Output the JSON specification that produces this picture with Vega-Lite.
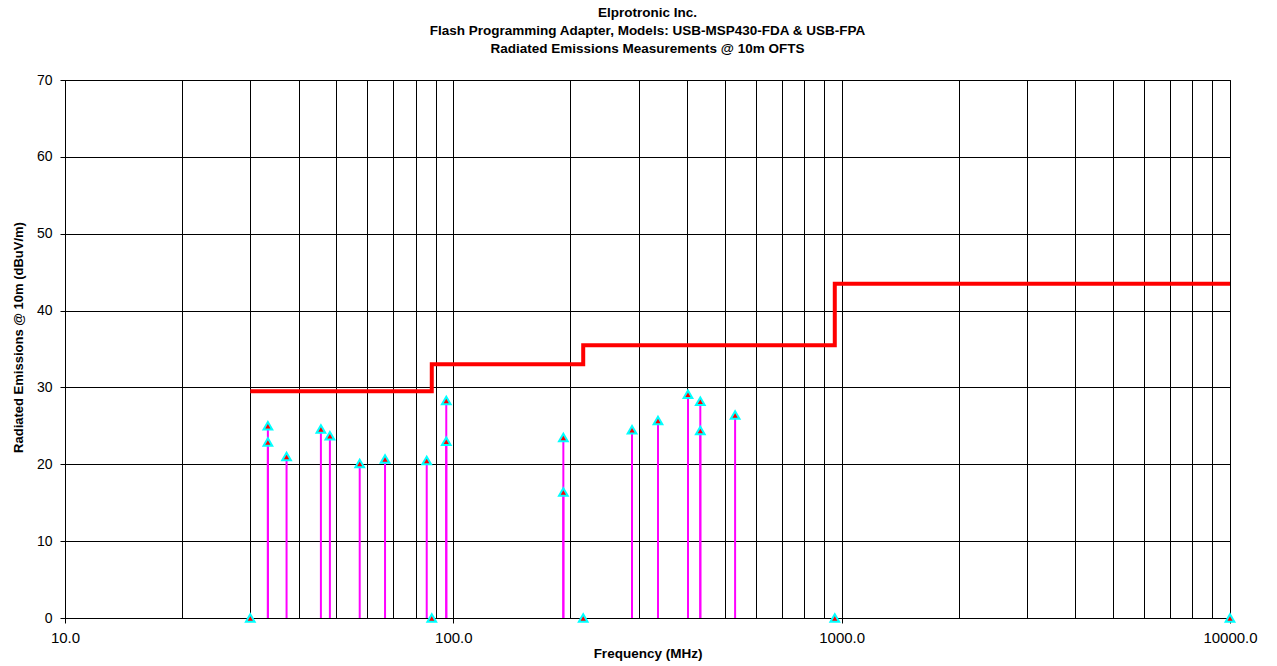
{
  "$schema": "https://vega.github.io/schema/vega-lite/v6.json",
  "width": 1165,
  "height": 538,
  "autosize": {"type": "none"},
  "padding": {"left": 65, "top": 80, "right": 47, "bottom": 48},
  "background": "white",
  "config": {
    "font": "Liberation Sans",
    "view": {"stroke": "black", "strokeWidth": 1}
  },
  "title": {
    "text": ["Elprotronic Inc.", "Flash Programming Adapter, Models: USB-MSP430-FDA & USB-FPA", "Radiated Emissions Measurements @ 10m OFTS"],
    "fontSize": 13.5,
    "fontWeight": "bold",
    "font": "Liberation Sans",
    "lineHeight": 18,
    "anchor": "middle",
    "baseline": "bottom",
    "offset": 24,
    "dy": 20,
    "color": "black"
  },
  "datasets": {
    "meas": [
      {"freq": 30.0, "level": 0},
      {"freq": 33.3, "level": 25.0},
      {"freq": 33.3, "level": 22.9},
      {"freq": 37.2, "level": 21.0},
      {"freq": 45.6, "level": 24.6},
      {"freq": 48.1, "level": 23.7},
      {"freq": 57.4, "level": 20.1},
      {"freq": 66.7, "level": 20.7},
      {"freq": 85.4, "level": 20.5},
      {"freq": 88.0, "level": 0},
      {"freq": 95.9, "level": 28.3},
      {"freq": 95.9, "level": 23.0},
      {"freq": 192.0, "level": 23.5},
      {"freq": 192.0, "level": 16.4},
      {"freq": 216.0, "level": 0},
      {"freq": 288.5, "level": 24.5},
      {"freq": 336.5, "level": 25.7},
      {"freq": 402.0, "level": 29.1},
      {"freq": 432.5, "level": 28.2},
      {"freq": 432.5, "level": 24.4},
      {"freq": 531.6, "level": 26.4},
      {"freq": 960.0, "level": 0},
      {"freq": 10000.0, "level": 0}
    ],
    "limit": [
      {"freq": 30, "limit": 29.5},
      {"freq": 88, "limit": 33.0},
      {"freq": 216, "limit": 35.5},
      {"freq": 960, "limit": 43.5},
      {"freq": 10000, "limit": 43.5}
    ]
  },
  "layer": [
    {
      "data": {"name": "meas"},
      "mark": {"type": "rule", "color": "#FF00FF", "strokeWidth": 2},
      "encoding": {
        "x": {
          "field": "freq", "type": "quantitative",
          "scale": {"type": "log", "domain": [10, 10000], "nice": false},
          "axis": {
            "values": [10,20,30,40,50,60,70,80,90,100,200,300,400,500,600,700,800,900,1000,2000,3000,4000,5000,6000,7000,8000,9000,10000],
            "labelExpr": "(datum.value==10||datum.value==100||datum.value==1000||datum.value==10000) ? format(datum.value,'.1f') : ''",
            "tickOpacity": {"condition": {"test": "datum.value==10||datum.value==100||datum.value==1000||datum.value==10000", "value": 1}, "value": 0},
            "grid": true, "gridColor": "black", "gridOpacity": 1, "gridWidth": 1,
            "domainColor": "black", "tickColor": "black", "tickSize": 5,
            "labelFontSize": 15, "labelColor": "black", "labelPadding": 7, "labelFont": "Liberation Sans",
            "labelOverlap": false, "labelFlush": false,
            "title": "Frequency (MHz)", "titleFontSize": 13.5, "titleFontWeight": "bold", "titleColor": "black",
            "titleY": 35, "titleBaseline": "middle", "titleFont": "Liberation Sans"
          }
        },
        "y": {
          "field": "level", "type": "quantitative",
          "scale": {"domain": [0, 70], "nice": false, "zero": true},
          "axis": {
            "values": [0,10,20,30,40,50,60,70],
            "grid": true, "gridColor": "black", "gridOpacity": 1, "gridWidth": 1,
            "domainColor": "black", "tickColor": "black", "tickSize": 5,
            "labelFontSize": 14, "labelColor": "black", "labelPadding": 8, "labelFont": "Liberation Sans",
            "title": "Radiated Emissions @ 10m (dBuV/m)", "titleFontSize": 13, "titleFontWeight": "bold", "titleColor": "black",
            "titleX": -47, "titleY": 257, "titleBaseline": "middle", "titleAngle": -90, "titleFont": "Liberation Sans"
          }
        },
        "y2": {"datum": 0}
      }
    },
    {
      "data": {"name": "limit"},
      "mark": {"type": "line", "color": "#FF0000", "strokeWidth": 4, "interpolate": "step-after"},
      "encoding": {
        "x": {"field": "freq", "type": "quantitative"},
        "y": {"field": "limit", "type": "quantitative"}
      }
    },
    {
      "data": {"name": "meas"},
      "mark": {"type": "point", "shape": "triangle-up", "filled": true, "fill": "#FF0000", "stroke": "#00FFFF", "strokeWidth": 2, "size": 75, "opacity": 1},
      "encoding": {
        "x": {"field": "freq", "type": "quantitative"},
        "y": {"field": "level", "type": "quantitative"}
      }
    }
  ]
}
